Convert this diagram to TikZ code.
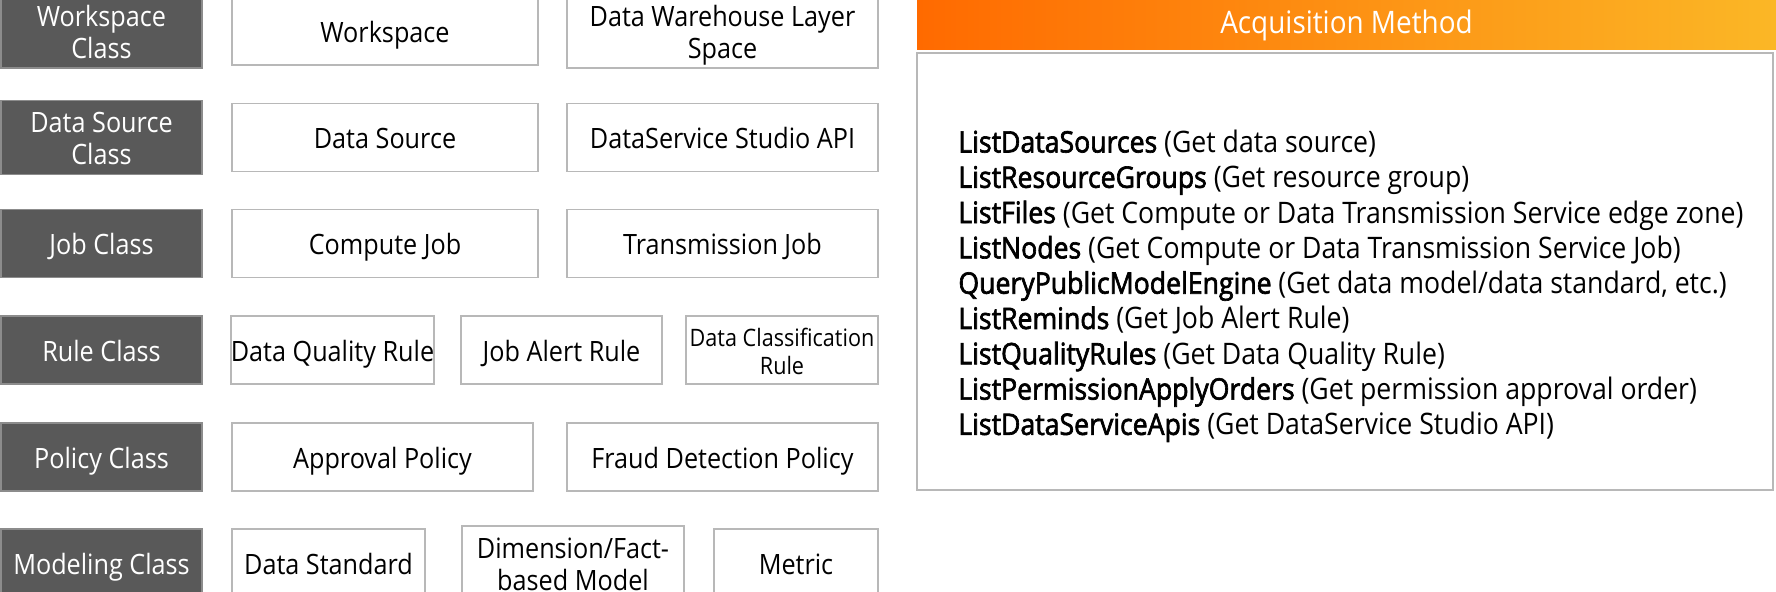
\documentclass[tikz,border=0pt]{standalone}
\usepackage{fontspec}
\setmainfont[FakeStretch=0.9]{Open Sans}
\newfontfamily\semib[FakeStretch=0.9,FakeBold=2.2]{Open Sans}
\definecolor{clsfill}{HTML}{595959}
\definecolor{clsdraw}{HTML}{8C8C8C}
\definecolor{itmdraw}{HTML}{B8B8B8}
\definecolor{orL}{HTML}{FF6A00}
\definecolor{orR}{HTML}{FBB726}
\newcommand\lowtx[1]{\raisebox{0pt}[\dimexpr\height+5pt\relax][\depth]{\begin{tabular}{@{}c@{}}#1\end{tabular}}}
\tikzset{
  cls/.style={draw=clsdraw, fill=clsfill, text=white, line width=0.8pt, inner sep=0pt,
    minimum width=100.5pt, minimum height=34pt,
    font=\fontsize{14}{16}\selectfont},
  itm/.style={draw=itmdraw, fill=white, text=black, line width=0.9pt, inner sep=0pt,
    minimum height=34pt, font=\fontsize{14}{16}\selectfont},
  small/.style={font=\fontsize{12}{14}\selectfont},
  hdr/.style={left color=orL, right color=orR, text=white, inner sep=0pt,
    minimum width=429.5pt, minimum height=25pt, font=\fontsize{15.5}{17}\selectfont},
  panel/.style={draw=itmdraw, fill=white, line width=0.9pt, inner sep=0pt,
    minimum width=428pt, minimum height=218.5pt},
  list/.style={align=left, anchor=west, inner sep=0pt,
    font=\fontsize{14.8}{17.65}\selectfont}
}
\begin{document}
\begin{tikzpicture}[x=0.5pt,y=-0.5pt]
\useasboundingbox (0,0) rectangle (1776,592);
% row 1
\node[cls] (c1) at (101.5,31) {\lowtx{Workspace\\Class}};
\node[itm, minimum width=153pt] (ws) at (385,31) {\lowtx{Workspace}};
\node[itm, minimum width=155.5pt] (dw) at (722.5,31) {\lowtx{Data Warehouse Layer\\Space}};
% row 2
\node[cls] (c2) at (101.5,137.5) {\lowtx{Data Source\\Class}};
\node[itm, minimum width=153pt] (ds) at (385,137.5) {\lowtx{Data Source}};
\node[itm, minimum width=155.5pt] (api) at (722.5,137.5) {\lowtx{DataService Studio API}};
% row 3
\node[cls] (c3) at (101.5,243.5) {\lowtx{Job Class}};
\node[itm, minimum width=153pt] (cj) at (385,243.5) {\lowtx{Compute Job}};
\node[itm, minimum width=155.5pt] (tj) at (722.5,243.5) {\lowtx{Transmission Job}};
% row 4
\node[cls] (c4) at (101.5,350) {\lowtx{Rule Class}};
\node[itm, minimum width=100.5pt] (dqr) at (332.5,350) {\lowtx{Data Quality Rule}};
\node[itm, minimum width=100.5pt] (jar) at (561.5,350) {\lowtx{Job Alert Rule}};
\node[itm, small, minimum width=96pt] (dcr) at (782,350) {\lowtx{Data Classification\\Rule}};
% row 5
\node[cls] (c5) at (101.5,457) {\lowtx{Policy Class}};
\node[itm, minimum width=150.5pt] (ap) at (382.5,457) {\lowtx{Approval Policy}};
\node[itm, minimum width=155.5pt] (fd) at (722.5,457) {\lowtx{Fraud Detection Policy}};
% row 6
\node[cls] (c6) at (101.5,563) {\lowtx{Modeling Class}};
\node[itm, minimum width=96.5pt] (dst) at (328.5,563) {\lowtx{Data Standard}};
\node[itm, minimum width=111pt] (dim) at (573,563) {\lowtx{Dimension/Fact-\\based Model}};
\node[itm, minimum width=82pt] (met) at (796,563) {\lowtx{Metric}};
% right panel
\node[hdr] (hd) at (1346.5,25) {Acquisition Method};
\node[panel] (pn) at (1345,271.5) {};
\node[list] (tx) at (958,286) {%
{\semib ListDataSources} (Get data source)\\
{\semib ListResourceGroups} (Get resource group)\\
{\semib ListFiles} (Get Compute or Data Transmission Service edge zone)\\
{\semib ListNodes} (Get Compute or Data Transmission Service Job)\\
{\semib QueryPublicModelEngine} (Get data model/data standard, etc.)\\
{\semib ListReminds} (Get Job Alert Rule)\\
{\semib ListQualityRules} (Get Data Quality Rule)\\
{\semib ListPermissionApplyOrders} (Get permission approval order)\\
{\semib ListDataServiceApis} (Get DataService Studio API)};
\end{tikzpicture}
\end{document}
